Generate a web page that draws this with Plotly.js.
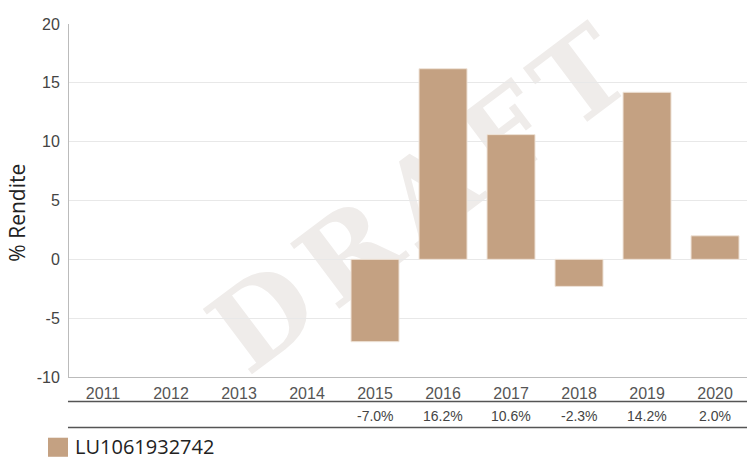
<!DOCTYPE html>
<html>
<head>
<meta charset="utf-8">
<script src="https://cdn.plot.ly/plotly-3.0.1.min.js"></script>
<style>
html,body{margin:0;padding:0;background:#fff;}
#wrap{position:relative;width:747px;height:458px;overflow:hidden;}
#wm{position:absolute;left:424px;top:196px;transform:translate(-50%,-50%) rotate(-37deg);
font-family:"DejaVu Serif",serif;font-weight:bold;font-size:112px;line-height:1;color:#efecea;white-space:nowrap;letter-spacing:12px;}
#chart{position:absolute;left:0;top:0;width:747px;height:458px;}
</style>
</head>
<body>
<div id="wrap">
<div id="wm">DRAFT</div>
<div id="chart"></div>
</div>
<script>
const years = ['2011','2012','2013','2014','2015','2016','2017','2018','2019','2020'];
const returns = [null,null,null,null,-7.0,16.2,10.6,-2.3,14.2,2.0];
const returnLabels = ['','','','','-7.0%','16.2%','10.6%','-2.3%','14.2%','2.0%'];
const yTickVals = [-10,-5,0,5,10,15,20];
const yTickText = ['-10','-5','0','5','10','15','20'];
const seriesName = 'LU1061932742';
const yTitle = '% Rendite';
const barColor = '#c4a182';

const annotations = years.map((y,i)=>({
  x: i, xref:'x', y:-0.110, yref:'paper', text: returnLabels[i], showarrow:false,
  font:{family:'Liberation Sans, Arial, sans-serif', size:14, color:'#444'}, yanchor:'middle'
})).filter(a => a.text !== '');
annotations.push({x:0.0059, xref:'paper', y:-0.198, yref:'paper', xanchor:'left', yanchor:'middle',
  text: seriesName, showarrow:false, font:{family:'Open Sans, sans-serif', size:20, color:'#222'}});
annotations.push({x:-0.077, xref:'paper', y:0.465, yref:'paper', xanchor:'center', yanchor:'middle',
  text: yTitle, textangle:-90, showarrow:false, font:{family:'Open Sans, sans-serif', size:21, color:'#222'}});

const shapes = [
  {type:'line', xref:'paper', yref:'paper', x0:-0.0015, x1:1.0, y0:-0.0694, y1:-0.0694, line:{color:'#555', width:1.6}},
  {type:'line', xref:'paper', yref:'paper', x0:-0.0015, x1:1.0, y0:-0.143, y1:-0.143, line:{color:'#555', width:1.6}},
  {type:'rect', xref:'paper', yref:'paper', x0:-0.031, x1:-0.0015, y0:-0.172, y1:-0.226, fillcolor:barColor, line:{width:0}}
];

Plotly.newPlot('chart', [{
  type:'bar', x: years, y: returns, name: seriesName,
  marker:{color: barColor, line:{color:'#efe4d9', width:1}},
  width:0.706, hoverinfo:'x+y'
}], {
  width:747, height:458,
  margin:{l:69, r:0, t:24, b:81},
  paper_bgcolor:'rgba(0,0,0,0)', plot_bgcolor:'rgba(0,0,0,0)',
  showlegend:false,
  xaxis:{type:'category', range:[-0.5, 9.47], showline:true, linecolor:'#bbb', linewidth:1, showgrid:false, ticks:'',
    tickfont:{family:'Liberation Sans, Arial, sans-serif', size:16, color:'#555'}, ticklabelstandoff:2, fixedrange:true},
  yaxis:{range:[-10,20], tickmode:'array', tickvals:yTickVals, ticktext:yTickText,
    showline:true, linecolor:'#bbb', linewidth:1, gridcolor:'#e8e8e8',
    zeroline:true, zerolinecolor:'#e8e8e8', zerolinewidth:1, ticks:'', ticklabelstandoff:5,
    tickfont:{family:'Liberation Sans, Arial, sans-serif', size:16, color:'#444'}},
  annotations: annotations,
  shapes: shapes
}, {displayModeBar:false, staticPlot:true});
</script>
</body>
</html>
